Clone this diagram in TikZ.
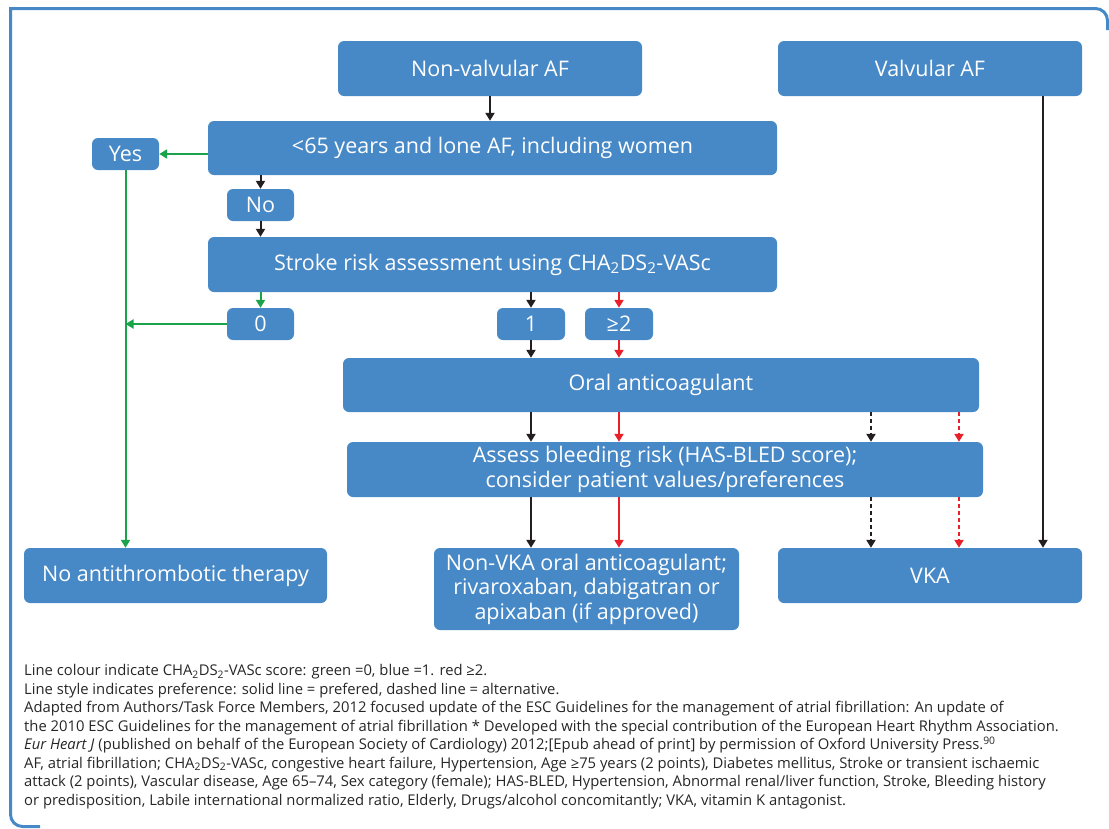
\documentclass[tikz,border=0pt]{standalone}
\usepackage{fontspec}
\setmainfont{Open Sans}
\usetikzlibrary{arrows.meta}
\definecolor{boxblue}{RGB}{71,137,199}
\definecolor{flowgreen}{RGB}{27,163,74}
\definecolor{flowred}{RGB}{232,32,42}
\definecolor{flowblack}{RGB}{35,31,32}
\newcommand{\chads}{CHA\textsubscript{2}DS\textsubscript{2}-VASc}

\begin{document}
\begin{tikzpicture}[x=1pt, y=-1pt,
    box/.style={fill=boxblue, text=white, rounded corners=6pt, inner sep=0pt,
        align=center, font=\fontsize{21.5}{24.5}\selectfont},
    flow/.style={line width=2pt, flowblack, -{Triangle[width=9pt,length=8pt]}},
    alt/.style={flow, dash pattern=on 4pt off 3pt},
    frame/.style={line width=3pt, boxblue}]
    % page size in pixels
    \useasboundingbox (0,0) rectangle (1109,828);

    % --- macro: box from its corners (x1,y1) to (x2,y2) ---
    \newcommand{\flowbox}[6]{
        \pgfmathsetmacro{\bw}{#4-#2}
        \pgfmathsetmacro{\bh}{#5-#3}
        \node[box, minimum width=\bw pt, minimum height=\bh pt] (#1)
            at ({(#2+#4)/2},{(#3+#5)/2}) {#6};
    }

    % --- frame ---
    \draw[frame, rounded corners=12pt] (1107.5,30) -- (1107.5,8.5)
        [sharp corners] -- (10.5,8.5) [rounded corners=12pt] -- (10.5,826.5) -- (40,826.5);

    % --- boxes ---
    \flowbox{nonval}{338}{41}{642}{96}{Non-valvular AF}
    \flowbox{valv}{778}{41}{1082}{96}{Valvular AF}
    \flowbox{young}{208}{121}{777}{175}{<65 years and lone AF, including women}
    \flowbox{yes}{92}{138}{159}{170}{Yes}
    \flowbox{no}{227}{189}{294}{221}{No}
    \flowbox{stroke}{208}{237}{777}{292}{Stroke risk assessment using \chads}
    \flowbox{zero}{227}{308}{294}{340}{0}
    \flowbox{one}{497}{308}{565}{340}{1}
    \flowbox{two}{585}{308}{653}{340}{≥2}
    \flowbox{oac}{343}{358}{979}{412}{Oral anticoagulant}
    \flowbox{bleed}{347}{442}{983}{497}{Assess bleeding risk (HAS-BLED score);\\consider patient values/preferences}
    \flowbox{none}{24}{548}{327}{603}{No antithrombotic therapy}
    \flowbox{noac}{434}{548}{739}{630}{Non-VKA oral anticoagulant;\\rivaroxaban, dabigatran or\\apixaban (if approved)}
    \flowbox{vka}{778}{548}{1082}{603}{VKA}

    % --- connectors ---
    \draw[flow] (nonval.south) -- (young.north -| nonval.south);
    \draw[flow, flowgreen] (yes.east -| young.west) -- (yes.east);
    \draw[flow] (young.south -| no.north) -- (no.north);
    \draw[flow] (no.south) -- (stroke.north -| no.south);
    \draw[flow, flowgreen] (yes.south) -- (none.north -| yes.south);
    \draw[flow, flowgreen] (stroke.south -| zero.north) -- (zero.north);
    \draw[flow, flowgreen] (zero.west) -- (zero.west -| yes.south);
    \draw[flow] (stroke.south -| one.north) -- (one.north);
    \draw[flow, flowred] (stroke.south -| two.north) -- (two.north);
    \draw[flow] (one.south) -- (oac.north -| one.south);
    \draw[flow, flowred] (two.south) -- (oac.north -| two.south);
    \draw[flow] (oac.south -| one.south) -- (bleed.north -| one.south);
    \draw[flow, flowred] (oac.south -| two.south) -- (bleed.north -| two.south);
    \draw[flow] (bleed.south -| one.south) -- (noac.north -| one.south);
    \draw[flow, flowred] (bleed.south -| two.south) -- (noac.north -| two.south);
    \foreach \xx/\col in {871/flowblack, 959/flowred}{
        \draw[alt, \col] (oac.south -| \xx,0) -- (bleed.north -| \xx,0);
        \draw[alt, \col] (bleed.south -| \xx,0) -- (vka.north -| \xx,0);
    }
    \draw[flow] (valv.south -| 1043,0) -- (vka.north -| 1043,0);

    % --- key and source (anchored at the last line) ---
    \node[anchor=base west, align=left, inner sep=0pt, text=black!85,
        font=\fontsize{14.8}{18.5}\selectfont] (notes) at (24,805) {%
        Line colour indicate \chads{} score: green =0, blue =1. red ≥2.\\
        Line style indicates preference: solid line = prefered, dashed line = alternative.\\
        Adapted from Authors/Task Force Members, 2012 focused update of the ESC Guidelines for the management of atrial fibrillation: An update of\\
        the 2010 ESC Guidelines for the management of atrial fibrillation * Developed with the special contribution of the European Heart Rhythm Association.\\
        \textit{Eur Heart J} (published on behalf of the European Society of Cardiology) 2012;[Epub ahead of print] by permission of Oxford University Press.\textsuperscript{90}\\
        AF, atrial fibrillation; \chads, congestive heart failure, Hypertension, Age ≥75 years (2 points), Diabetes mellitus, Stroke or transient ischaemic\\
        attack (2 points), Vascular disease, Age 65--74, Sex category (female); HAS-BLED, Hypertension, Abnormal renal/liver function, Stroke, Bleeding history\\
        or predisposition, Labile international normalized ratio, Elderly, Drugs/alcohol concomitantly; VKA, vitamin K antagonist.};
\end{tikzpicture}
\end{document}
